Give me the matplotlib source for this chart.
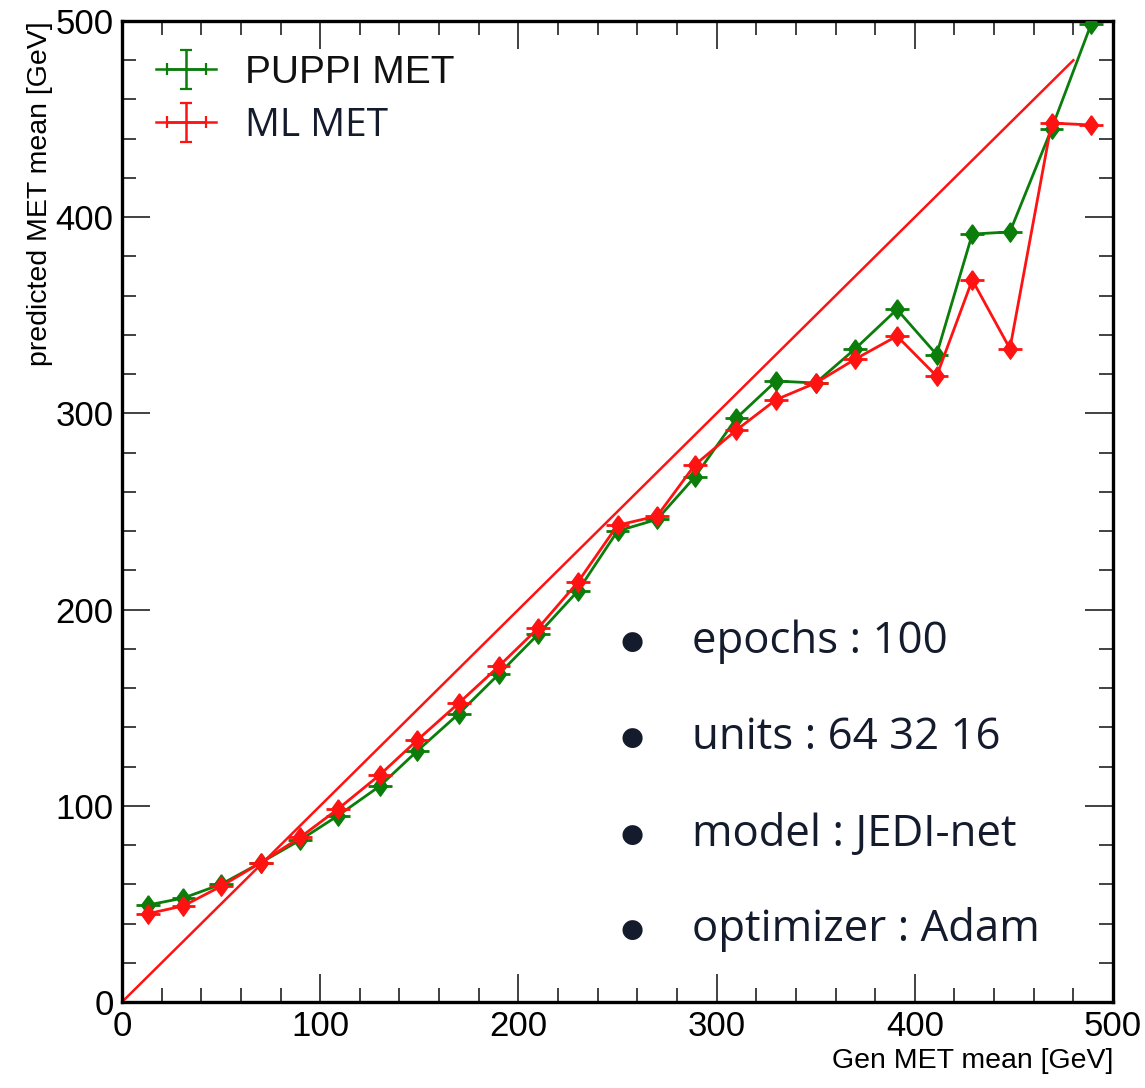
import matplotlib
matplotlib.use("Agg")
import numpy as np
import matplotlib.pyplot as plt
from matplotlib.ticker import MultipleLocator

gen_x = [13, 31, 50, 70, 90, 109, 130, 149, 170, 190, 210, 230, 250, 270, 289,
         310, 330, 350, 370, 391, 411, 429, 448, 469, 489]
puppi = [49.4, 53, 60, 71, 82.6, 95, 110, 128, 147, 167, 187.5, 209.5, 240, 246,
         267.6, 297.6, 316.5, 315.5, 333, 353, 330, 391.4, 392.5, 445, 498.5]
ml = [45, 49, 59, 71, 84, 98.4, 115.7, 133.5, 152.4, 171, 190.6, 214, 243, 247.7,
      273.7, 291.5, 307, 315.5, 327.7, 339.4, 319, 368, 333, 448, 447]
x_err = [6] * len(gen_x)
y_err = [2] * len(gen_x)
diag = [0, 480]
notes = ["epochs : 100", "units : 64 32 16", "model : JEDI-net", "optimizer : Adam"]

GREEN = "#0a7d0a"
RED = "#ff1212"
TXT = "#141b2d"
diamond = [(0, 1), (0.72, 0), (0, -1), (-0.72, 0), (0, 1)]

fig = plt.figure(figsize=(11.45, 10.88), dpi=100)
ax = fig.add_axes([122/1145, 86/1088, (1113-122)/1145, (1002-21)/1088])

ax.plot(diag, diag, color=RED, lw=1.8, zorder=2)
ax.errorbar(gen_x, puppi, xerr=x_err, yerr=y_err, color=GREEN, marker=diamond,
            ms=14, lw=2.0, elinewidth=2.0, capsize=0, zorder=3)
ax.errorbar(gen_x, ml, xerr=x_err, yerr=y_err, color=RED, marker=diamond,
            ms=14, lw=2.0, elinewidth=2.0, capsize=0, zorder=4)

# legend handles (cross with caps, no marker)
h1 = ax.errorbar([np.nan], [np.nan], xerr=[1], yerr=[1], color=GREEN, lw=1.8,
                 capsize=4, capthick=1.6, label="PUPPI MET")
h2 = ax.errorbar([np.nan], [np.nan], xerr=[1], yerr=[1], color=RED, lw=1.8,
                 capsize=4, capthick=1.6, label="ML MET")

ax.set_xlim(0, 500)
ax.set_ylim(0, 500)
ax.xaxis.set_major_locator(MultipleLocator(100))
ax.yaxis.set_major_locator(MultipleLocator(100))
ax.xaxis.set_minor_locator(MultipleLocator(20))
ax.yaxis.set_minor_locator(MultipleLocator(20))
ax.tick_params(which="both", direction="in", top=True, right=True, width=1.3,
               color="#333333")
ax.tick_params(which="major", length=20, labelsize=25, pad=6)
ax.tick_params(which="minor", length=10)
for lab in ax.get_xticklabels() + ax.get_yticklabels():
    lab.set_fontfamily("Liberation Sans")
for sp in ax.spines.values():
    sp.set_linewidth(2.4)

ax.set_xlabel("Gen MET mean [GeV]", fontsize=20.5, family="Liberation Sans",
              loc="right", labelpad=3)
ax.set_ylabel("predicted MET mean [GeV]", fontsize=20.5, family="Liberation Sans",
              loc="top", labelpad=2)

leg = ax.legend(handles=[h1, h2], loc="upper left", bbox_to_anchor=(-0.001, 1.0013),
                frameon=False, handlelength=1.55, handletextpad=0.75,
                labelspacing=0.42, prop={"family": "Liberation Sans", "size": 28})
texts = leg.get_texts()
texts[0].set_color("#111111")
texts[1].set_color(TXT)
texts[1].set_fontfamily("Open Sans")

ys = [183.5, 134.6, 85.1, 36.7]
for t, y in zip(notes, ys):
    ax.text(257.3, y, "\u25CF", fontsize=19, color=TXT, va="center",
            ha="center", family="DejaVu Sans")
    ax.text(287.6, y, t, fontsize=31.5, color=TXT, va="center", ha="left",
            family="Open Sans")

fig.savefig("out.png", dpi=100)
